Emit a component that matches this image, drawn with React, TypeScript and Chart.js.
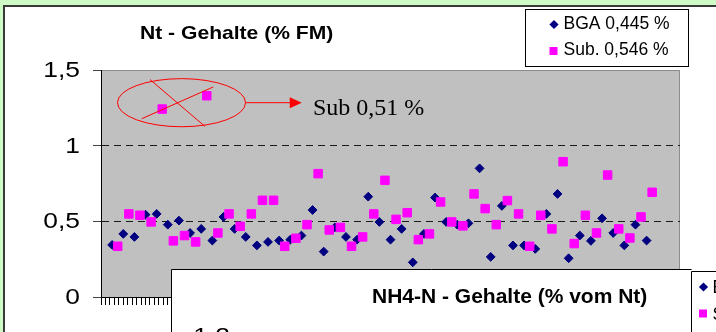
import { useEffect, useRef } from 'react';
import { Chart, registerables } from 'chart.js';

Chart.register(...registerables);

// Sample numbers (x axis) and Nt contents in % of fresh matter
const sampleNumbers = [
  1, 2, 3, 4, 5, 6, 7, 8, 9, 10, 11, 12, 13, 14, 15, 16, 17, 18, 19, 20, 21, 22, 23, 24, 25,
  26, 27, 28, 29, 30, 31, 32, 33, 34, 35, 36, 37, 38, 39, 40, 41, 42, 43, 44, 45, 46, 47, 48, 49,
];
const bgaValues = [
  0.344, 0.417, 0.397, 0.544, 0.549, 0.478, 0.505, 0.423, 0.45, 0.373,
  0.529, 0.45, 0.397, 0.341, 0.364, 0.373, 0.379, 0.406, 0.575, 0.3,
  0.46, 0.397, 0.379, 0.663, 0.496, 0.379, 0.45, 0.229, 0.417, 0.657,
  0.496, 0.478, 0.487, 0.85, 0.265, 0.602, 0.341, 0.341, 0.318, 0.549,
  0.681, 0.256, 0.406, 0.371, 0.52, 0.423, 0.341, 0.478, 0.373,
];
const subValues = [
  0.335, 0.549, 0.54, 0.496, 1.242, 0.371, 0.406, 0.364, 1.33, 0.423,
  0.549, 0.467, 0.549, 0.639, 0.639, 0.335, 0.388, 0.478, 0.815, 0.443,
  0.46, 0.335, 0.397, 0.549, 0.771, 0.513, 0.557, 0.379, 0.417, 0.628,
  0.496, 0.47, 0.681, 0.584, 0.478, 0.637, 0.549, 0.335, 0.54, 0.45,
  0.894, 0.353, 0.54, 0.423, 0.806, 0.45, 0.39, 0.529, 0.692,
];
const yTickValues = [0, 0.5, 1, 1.5];
const gridValues = [0.5, 1];

const bgaLabel = 'BGA 0,445 %';
const subLabel = 'Sub. 0,546 %';
const chartTitle = 'Nt - Gehalte (% FM)';
const noteText = 'Sub 0,51 %';
const secondTitle = 'NH4-N - Gehalte (% vom Nt)';
const secondLegend = ['BGA', 'Sub.'];
const secondTopTick = '1,2';

// Sub samples sit half a step to the right of the BGA samples
const SUB_SHIFT = 0.5;

const SANS = '"Liberation Sans", Arial, Helvetica, sans-serif';
const SERIF = '"Liberation Serif", "Times New Roman", Times, serif';
const NAVY = '#000080';
const MAGENTA = '#ff00ff';
const RED = '#ff0000';
// the axis numbers and the title are set slightly wide
const WIDE = 1.2;

const fmt = (v: number) => String(v).replace('.', ',');

function diamond(ctx: CanvasRenderingContext2D, x: number, y: number, r: number, color: string) {
  ctx.fillStyle = color;
  ctx.beginPath();
  ctx.moveTo(x - r, y);
  ctx.lineTo(x, y - r);
  ctx.lineTo(x + r, y);
  ctx.lineTo(x, y + r);
  ctx.closePath();
  ctx.fill();
}

function wideText(
  ctx: CanvasRenderingContext2D,
  text: string,
  x: number,
  y: number,
  font: string,
  stretch: number,
  align: CanvasTextAlign,
  baseline: CanvasTextBaseline,
) {
  ctx.save();
  ctx.font = font;
  ctx.textAlign = align;
  ctx.textBaseline = baseline;
  ctx.fillStyle = '#000';
  ctx.translate(x, y);
  ctx.scale(stretch, 1);
  ctx.fillText(text, 0, 0);
  ctx.restore();
}

// white sheet with dark frame and grey plot area, drawn below the axes
const sheetPlugin = {
  id: 'sheet',
  beforeDraw(chart: any) {
    const { ctx, width, height, chartArea: a } = chart;
    ctx.save();
    ctx.fillStyle = '#cffcc6';
    ctx.fillRect(0, 0, width, height);
    ctx.fillStyle = '#3a3a3a';
    ctx.fillRect(3, 5, width, height);
    ctx.fillStyle = '#ffffff';
    ctx.fillRect(5, 7, width, height);
    ctx.fillStyle = '#c0c0c0';
    ctx.fillRect(a.left, a.top, a.right - a.left, a.bottom - a.top);
    ctx.strokeStyle = '#8c8c8c';
    ctx.lineWidth = 1;
    ctx.beginPath();
    ctx.moveTo(a.left, a.top + 0.5);
    ctx.lineTo(a.right - 0.5, a.top + 0.5);
    ctx.lineTo(a.right - 0.5, a.bottom);
    ctx.stroke();
    ctx.restore();
  },
};

// value labels of the y axis, placed through the y scale
const yLabelPlugin = {
  id: 'yLabels',
  beforeDatasetsDraw(chart: any) {
    const { ctx, scales, chartArea } = chart;
    yTickValues.forEach((v) => {
      const y = scales.y.getPixelForValue(v);
      wideText(ctx, fmt(v), chartArea.left - 21, y + 1, `22px ${SANS}`, WIDE, 'right', 'middle');
    });
  },
};

// outlier note: ellipse with a cross around the two high Sub values, arrow and text
const notePlugin = {
  id: 'outlierNote',
  afterDatasetsDraw(chart: any) {
    const { ctx, scales } = chart;
    const px = (v: number) => scales.x.getPixelForValue(v);
    const py = (v: number) => scales.y.getPixelForValue(v);
    ctx.save();
    ctx.strokeStyle = RED;
    ctx.fillStyle = RED;
    ctx.lineWidth = 1;
    const cx = px(7.23);
    const cy = py(1.284);
    const rx = px(7.23 + 5.75) - cx;
    const ry = cy - py(1.284 + 0.159);
    ctx.beginPath();
    ctx.ellipse(cx, cy, rx, ry, 0, 0, Math.PI * 2);
    ctx.stroke();
    ctx.beginPath();
    ctx.moveTo(px(3.655), py(1.178));
    ctx.lineTo(px(10.085), py(1.388));
    ctx.moveTo(px(4.4), py(1.437));
    ctx.lineTo(px(9.34), py(1.127));
    ctx.stroke();
    const ax0 = px(13.0);
    const ax1 = px(18.03);
    const ay = py(1.284);
    ctx.beginPath();
    ctx.moveTo(ax0, ay);
    ctx.lineTo(ax1 - 10, ay);
    ctx.stroke();
    ctx.beginPath();
    ctx.moveTo(ax1, ay);
    ctx.lineTo(ax1 - 12, ay - 5.5);
    ctx.lineTo(ax1 - 12, ay + 5.5);
    ctx.closePath();
    ctx.fill();
    ctx.fillStyle = '#000';
    ctx.font = `24px ${SERIF}`;
    ctx.textAlign = 'left';
    ctx.textBaseline = 'alphabetic';
    ctx.fillText(noteText, px(19.04), py(1.2));
    ctx.restore();
  },
};

// title, legend and the neighbouring panel lying over the lower right part
const decorPlugin = {
  id: 'decor',
  afterDraw(chart: any) {
    const ctx: CanvasRenderingContext2D = chart.ctx;
    wideText(ctx, chartTitle, 140, 38.5, `bold 18.5px ${SANS}`, 1.14, 'left', 'alphabetic');

    ctx.save();
    ctx.textAlign = 'left';
    ctx.textBaseline = 'alphabetic';
    // legend
    ctx.fillStyle = '#fff';
    ctx.fillRect(525.5, 9.5, 163, 57);
    ctx.strokeStyle = '#000';
    ctx.lineWidth = 1;
    ctx.strokeRect(525.5, 9.5, 163, 57);
    ctx.font = `17.5px ${SANS}`;
    diamond(ctx, 554, 24.5, 4.6, NAVY);
    ctx.fillStyle = '#000';
    ctx.fillText(bgaLabel, 563.5, 28.5);
    ctx.fillStyle = MAGENTA;
    ctx.fillRect(549.5, 47, 8, 8);
    ctx.fillStyle = '#000';
    ctx.fillText(subLabel, 563.5, 55.2);

    // neighbouring panel
    ctx.fillStyle = '#fff';
    ctx.fillRect(172, 270, 560, 80);
    ctx.beginPath();
    ctx.moveTo(171.5, 340);
    ctx.lineTo(171.5, 269.5);
    ctx.lineTo(691.5, 269.5);
    ctx.stroke();
    ctx.font = `bold 21px ${SANS}`;
    ctx.fillStyle = '#000';
    ctx.fillText(secondTitle, 372, 302.7);
    // its legend, cut by the edge
    ctx.fillStyle = '#fff';
    ctx.fillRect(692, 272, 40, 70);
    ctx.beginPath();
    ctx.moveTo(691.5, 340);
    ctx.lineTo(691.5, 271.5);
    ctx.lineTo(720, 271.5);
    ctx.stroke();
    diamond(ctx, 703.5, 287, 4.6, NAVY);
    ctx.fillStyle = MAGENTA;
    ctx.fillRect(699, 309.5, 8, 8);
    ctx.fillStyle = '#000';
    ctx.font = `17.5px ${SANS}`;
    ctx.fillText(secondLegend[0], 712.5, 293.3);
    ctx.fillText(secondLegend[1], 712.5, 320);
    ctx.restore();

    wideText(ctx, secondTopTick, 230, 342.5, `22px ${SANS}`, WIDE, 'right', 'alphabetic');
  },
};

export default function App() {
  const canvasRef = useRef<HTMLCanvasElement | null>(null);

  useEffect(() => {
    const canvas = canvasRef.current;
    if (!canvas) return;
    const chart = new Chart(canvas, {
      type: 'scatter',
      data: {
        datasets: [
          {
            label: bgaLabel,
            data: sampleNumbers.map((n, i) => ({ x: n, y: bgaValues[i] })),
            pointStyle: 'rectRot',
            pointRadius: 4.4,
            backgroundColor: NAVY,
            borderColor: NAVY,
            borderWidth: 1,
            order: 1,
          },
          {
            label: subLabel,
            data: sampleNumbers.map((n, i) => ({ x: n + SUB_SHIFT, y: subValues[i] })),
            pointStyle: 'rect',
            pointRadius: 6,
            backgroundColor: MAGENTA,
            borderColor: MAGENTA,
            borderWidth: 1,
            order: 0,
          },
        ],
      },
      options: {
        responsive: false,
        animation: false,
        devicePixelRatio: 1,
        layout: { padding: { left: 0, top: 70, right: 36, bottom: 0 } },
        plugins: {
          legend: { display: false },
          tooltip: { enabled: false },
          title: { display: false },
        },
        scales: {
          x: {
            type: 'linear',
            min: 0,
            max: 52,
            afterFit: (s: any) => {
              s.height = 35;
            },
            ticks: { display: false, stepSize: 0.4 },
            grid: {
              drawOnChartArea: false,
              drawTicks: true,
              tickLength: 8,
              tickColor: '#000',
              tickWidth: 1,
            },
            border: { display: true, color: '#000', width: 1 },
          },
          y: {
            type: 'linear',
            min: 0,
            max: 1.5,
            afterFit: (s: any) => {
              s.width = 101;
            },
            afterBuildTicks: (s: any) => {
              s.ticks = yTickValues.map((v) => ({ value: v }));
            },
            ticks: { display: false },
            grid: {
              color: (c: any) =>
                c.tick && gridValues.includes(c.tick.value) ? '#1a1a1a' : 'rgba(0,0,0,0)',
              lineWidth: 1,
              drawTicks: true,
              tickLength: 8,
              tickColor: '#444',
              tickWidth: 1,
              tickBorderDash: [],
            },
            border: { display: true, color: '#000', width: 1, dash: [7, 5] },
          },
        },
      },
      plugins: [sheetPlugin, yLabelPlugin, notePlugin, decorPlugin],
    } as any);
    return () => chart.destroy();
  }, []);

  return (
    <div
      style={{
        position: 'fixed',
        left: 0,
        top: 0,
        width: 716,
        height: 332,
        overflow: 'hidden',
        background: '#cffcc6',
      }}
    >
      <canvas ref={canvasRef} width={716} height={332} style={{ display: 'block', width: 716, height: 332 }} />
    </div>
  );
}
